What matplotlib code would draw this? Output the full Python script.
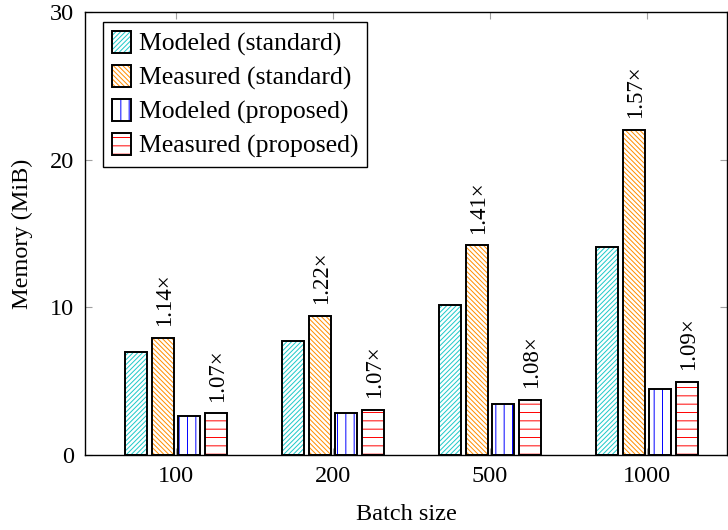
import numpy as np
import matplotlib.pyplot as plt
from matplotlib.patches import Patch
from matplotlib.legend_handler import HandlerTuple

# --- DATEN ---
batch_sizes = ["100", "200", "500", "1000"]
modeled_standard = [7.0, 7.7, 10.15, 14.1]
measured_standard = [7.95, 9.45, 14.2, 22.05]
modeled_proposed = [2.65, 2.85, 3.45, 4.5]
measured_proposed = [2.82, 3.05, 3.75, 4.95]
ratio_standard = ["1.14×", "1.22×", "1.41×", "1.57×"]
ratio_proposed = ["1.07×", "1.07×", "1.08×", "1.09×"]

# --- STYLE ---
plt.rcParams["font.family"] = ["Liberation Serif", "DejaVu Serif"]
plt.rcParams["hatch.linewidth"] = 0.7
FONT = 17.5
BAR_W = 0.14
STEP = 0.169

series = [
    ("Modeled (standard)", modeled_standard, "#1ec8c8", "///////"),
    ("Measured (standard)", measured_standard, "#ff8c00", "\\" * 7),
    ("Modeled (proposed)", modeled_proposed, "#0000ff", "||"),
    ("Measured (proposed)", measured_proposed, "#ff0000", "--"),
]

fig = plt.figure(figsize=(7.28, 5.3), dpi=100)
ax = fig.add_axes([0.1168, 0.1415, 0.882, 0.8355])

x = np.arange(len(batch_sizes))
handles = []
for i, (name, vals, col, hatch) in enumerate(series):
    pos = x + (i - 1.5) * STEP
    ax.bar(pos, vals, width=BAR_W, color="white", edgecolor=col, hatch=hatch, linewidth=0, zorder=2)
    ax.bar(pos, vals, width=BAR_W, fill=False, edgecolor="black", linewidth=1.4, zorder=3)
    handles.append((Patch(facecolor="white", edgecolor=col, hatch=hatch, linewidth=0),
                    Patch(fill=False, edgecolor="black", linewidth=1.4)))

    if i == 1:
        labels = ratio_standard
    elif i == 3:
        labels = ratio_proposed
    else:
        labels = None
    if labels:
        for p, v, t in zip(pos, vals, labels):
            ax.annotate(t, (p, v), xytext=(1, 8.5), textcoords="offset points",
                        rotation=90, ha="center", va="bottom", fontsize=16.5)

ax.set_xlim(-0.58, 3.51)
ax.set_ylim(0, 30)
ax.set_xticks(x)
ax.set_xticklabels(batch_sizes)
ax.set_yticks([0, 10, 20, 30])
ax.tick_params(axis="both", which="both", direction="in", length=5, color="#a0a0a0",
               labelsize=FONT, top=True, right=True, pad=8)
for s in ax.spines.values():
    s.set_linewidth(1.0)
    s.set_color("black")

ax.set_xlabel("Batch size", fontsize=FONT, labelpad=12)
ax.set_ylabel("Memory (MiB)", fontsize=FONT, labelpad=12)

leg = ax.legend(handles, [s[0] for s in series], handler_map={tuple: HandlerTuple(ndivide=1)},
                loc="upper left", bbox_to_anchor=(0.028, 0.977), fontsize=18.5,
                fancybox=False, edgecolor="black", framealpha=1, handlelength=0.75,
                handleheight=0.9, handletextpad=0.3, labelspacing=0.35, borderpad=0.35,
                borderaxespad=0)
leg.get_frame().set_linewidth(1.0)

plt.savefig("out.png", dpi=100)
